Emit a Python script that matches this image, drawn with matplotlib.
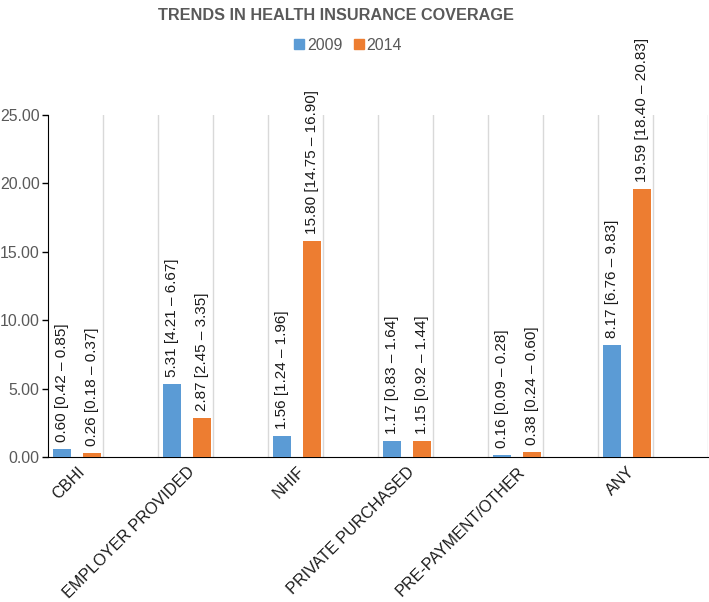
import matplotlib
matplotlib.use("Agg")
import matplotlib.pyplot as plt
from matplotlib.lines import Line2D
import numpy as np

categories = ["CBHI", "EMPLOYER PROVIDED", "NHIF", "PRIVATE PURCHASED", "PRE-PAYMENT/OTHER", "ANY"]
vals_2009 = [0.60, 5.31, 1.56, 1.17, 0.16, 8.17]
vals_2014 = [0.26, 2.87, 15.80, 1.15, 0.38, 19.59]
ci_2009 = ["[0.42 – 0.85]", "[4.21 – 6.67]", "[1.24 – 1.96]", "[0.83 – 1.64]", "[0.09 – 0.28]", "[6.76 – 9.83]"]
ci_2014 = ["[0.18 – 0.37]", "[2.45 – 3.35]", "[14.75 – 16.90]", "[0.92 – 1.44]", "[0.24 – 0.60]", "[18.40 – 20.83]"]
series_names = ["2009", "2014"]
yticks = [0, 5, 10, 15, 20, 25]

plt.rcParams['font.family'] = ['Liberation Sans', 'DejaVu Sans']

BLUE = "#5B9BD5"
ORANGE = "#ED7D31"
GRAY = "#595959"

fig = plt.figure(figsize=(7.09, 6.02), dpi=100)
# axes: x from 48 to 708 px, y=0 at 457 px, y=25 at 115 px
ax = fig.add_axes([0.0677, 0.2409, 0.9309, 0.5681])

x = np.arange(len(categories))
w = 0.164
pos1 = x + 0.127
pos2 = x + 0.40
ax.bar(pos1, vals_2009, width=w, color=BLUE, zorder=3)
ax.bar(pos2, vals_2014, width=w, color=ORANGE, zorder=3)

for p, v, c in zip(pos1, vals_2009, ci_2009):
    ax.annotate(f"{v:.2f} {c}", (p, v), xytext=(0, 5), textcoords="offset points",
                rotation=90, ha="center", va="bottom", fontsize=11, color="#1a1a1a",
                annotation_clip=False)
for p, v, c in zip(pos2, vals_2014, ci_2014):
    ax.annotate(f"{v:.2f} {c}", (p, v), xytext=(0, 5), textcoords="offset points",
                rotation=90, ha="center", va="bottom", fontsize=11, color="#1a1a1a",
                annotation_clip=False)

ax.set_xlim(0, 6)
ax.set_ylim(0, 25.0)
for gx in np.arange(0.5, 6.01, 0.5):
    ax.axvline(gx, color="#d9d9d9", lw=1, zorder=1)

ax.set_yticks(yticks)
ax.set_yticklabels([f"{t:.2f}" for t in yticks], color=GRAY, fontsize=11.4)
ax.set_xticks(x + 0.264)
ax.set_xticklabels(categories, rotation=45, ha="right", rotation_mode="anchor",
                   fontsize=11.6, color="#1a1a1a")
ax.tick_params(axis="x", length=0, pad=5)
ax.tick_params(axis="y", length=4, width=1, color="black", pad=2)

for s in ["top", "right"]:
    ax.spines[s].set_visible(False)
ax.spines["left"].set_color("black")
ax.spines["bottom"].set_color("black")

fig.text(0.474, 0.975, "TRENDS IN HEALTH INSURANCE COVERAGE", ha="center", va="center",
         fontsize=11.7, fontweight="bold", color=GRAY)

handles = [Line2D([], [], marker="s", ls="", color=BLUE, markersize=7),
           Line2D([], [], marker="s", ls="", color=ORANGE, markersize=7)]
leg = fig.legend(handles, series_names, loc="center", bbox_to_anchor=(0.49, 0.925), ncol=2,
                 frameon=False, fontsize=11.5, handletextpad=0.1, columnspacing=0.6,
                 handlelength=0.8)
for t in leg.get_texts():
    t.set_color(GRAY)

fig.savefig("out.png", dpi=100)
